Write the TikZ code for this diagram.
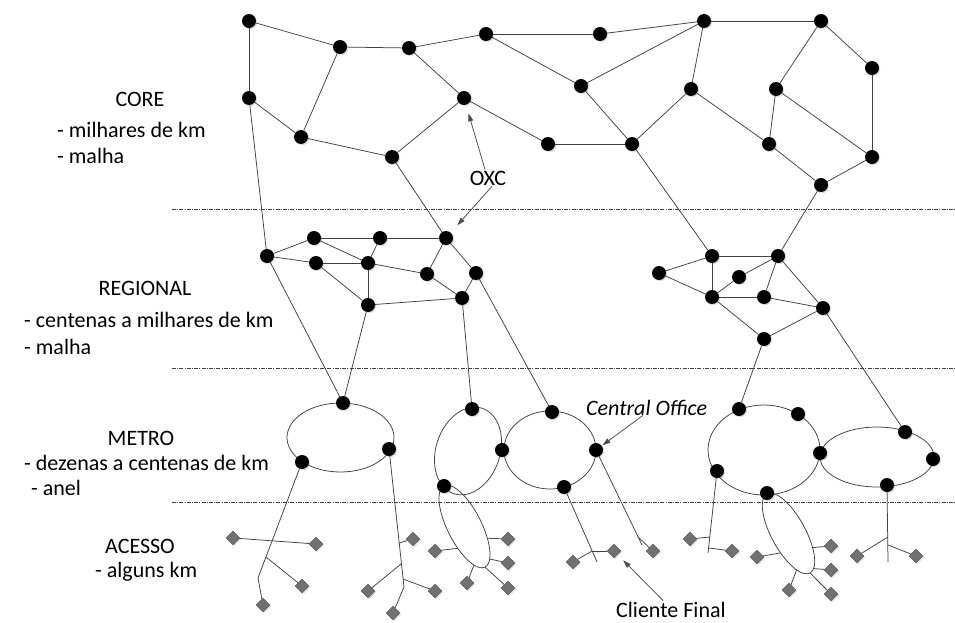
\documentclass[tikz,border=0pt]{standalone}
\usepackage{fontspec}
\setmainfont{Carlito}
\usetikzlibrary{shapes.geometric,arrows.meta,shadows}
\definecolor{linkgray}{HTML}{404040}
\definecolor{cpefill}{HTML}{717171}
\definecolor{cpeedge}{HTML}{4E4E4E}

\begin{document}
\begin{tikzpicture}[x=1pt,y=-1pt,
  link/.style={draw=linkgray,line width=0.75pt},
  layerline/.style={draw=black!75,line width=0.6pt,dash pattern=on 4pt off 1.2pt on 1pt off 1.2pt},
  hub/.style={circle,fill=black,inner sep=0pt,outer sep=0pt,minimum size=14pt,
    drop shadow={shadow xshift=1.2pt,shadow yshift=-1.2pt,opacity=0.25}},
  cpe/.style={diamond,aspect=1,fill=cpefill,draw=cpeedge,line width=0.4pt,inner sep=0pt,
    minimum width=14pt,minimum height=14pt,
    drop shadow={shadow xshift=1.2pt,shadow yshift=-1.2pt,opacity=0.25}},
  ring/.style={ellipse,draw=linkgray,line width=0.75pt,inner sep=0pt,outer sep=0pt},
  pointer/.style={draw=black!70,line width=0.75pt,-{Triangle[length=8pt,width=5pt]}},
  txt/.style={font=\fontsize{22}{26}\selectfont,inner sep=0pt},
]
\fill[white] (0,0) rectangle (955,623);
\useasboundingbox (0,0) rectangle (955,623);

% layer boundaries
\draw[layerline] (172,209) -- (955,209);
\draw[layerline] (172,368) -- (955,368);
\draw[layerline] (172,502) -- (955,502);

% layer captions
\node[txt,anchor=base] (lcore) at (140,107) {CORE};
\node[txt,anchor=base west] (lcore1) at (57,137) {- milhares de km};
\node[txt,anchor=base west] (lcore2) at (57,163) {- malha};
\node[txt,anchor=base] (lreg) at (145,295) {REGIONAL};
\node[txt,anchor=base west] (lreg1) at (24,327) {- centenas a milhares de km};
\node[txt,anchor=base west] (lreg2) at (24,354) {- malha};
\node[txt,anchor=base] (lmetro) at (141,445) {METRO};
\node[txt,anchor=base west] (lmetro1) at (24,470) {- dezenas a centenas de km};
\node[txt,anchor=base west] (lmetro2) at (31,495) {- anel};
\node[txt,anchor=base] (lacc) at (140,553) {ACESSO};
\node[txt,anchor=base west] (lacc1) at (95,577) {- alguns km};

% metro rings and access rings
\node[ring,minimum width=107pt,minimum height=69pt] (ringA) at (340.5,437.5) {};
\node[ring,minimum width=90pt,minimum height=64pt,rotate=71.5] (ringB) at (468,451) {};
\node[ring,minimum width=92pt,minimum height=78pt] (ringC) at (550,450) {};
\node[ring,minimum width=112pt,minimum height=90pt] (ringD) at (764,450) {};
\node[ring,minimum width=114pt,minimum height=60pt] (ringE) at (877,457) {};
\node[ring,minimum width=91pt,minimum height=34pt,rotate=-63.2] (acc1) at (464.5,526.5) {};
\node[ring,minimum width=90pt,minimum height=34pt,rotate=-61.4] (acc2) at (788.5,533.5) {};

% switching nodes
\foreach \n/\x/\y in {
  c1/249/21, c2/340/47, c3/409/48, c4/486/34, c5/249/98, c6/301/137, c7/464/98,
  c8/392/157, c9/548/144, c10/704/21, c11/600/34, c12/581/86, c13/632/144,
  c14/691/89, c15/769/144, c16/821/21, c17/872/68, c18/776/89, c19/872/157, c20/821/185,
  r1/267/256, r2/314/238, r3/380/238, r4/446/238, r5/316/263, r6/368/263,
  r7/427/274, r8/476/273, r9/462/298, r10/368/305,
  s1/659/273, s2/712/256, s3/778/256, s4/739/277, s5/712/297, s6/764/297,
  s7/823/308, s8/764/339,
  mA1/343/403, mA2/389/449, mA3/302/462,
  mB1/472/409, mB2/502/450, mB3/444/486,
  mC1/552/412, mC2/596/450, mC3/564/487,
  mD1/739/409, mD2/798/414, mD3/820/453, mD4/717/471, mD5/767/493,
  mE1/905/432, mE2/933/459, mE3/887/485}
  \node[hub] (\n) at (\x,\y) {};

% customer premises
\foreach \n/\x/\y in {
  d1/263/605, d2/233/538, d3/316/544, d4/302/586, d5/393/613, d6/413/539,
  d7/368/591, d8/435/591, d9/435/551, d10/508/539, d11/508/563, d12/508/588,
  d13/467/583, d14/757/557, d15/831/546, d16/831/570, d17/831/594, d18/789/590,
  d19/573/562, d20/614/551, d21/653/551, d22/690/539, d23/732/551,
  d24/857/556, d25/916/556}
  \node[cpe] (\n) at (\x,\y) {};

% mesh links
\foreach \a/\b in {
  c1/c2, c1/c5, c2/c3, c2/c6, c3/c4, c3/c7, c4/c11, c4/c12, c5/c6, c6/c8,
  c8/c7, c7/c9, c9/c13, c11/c10, c12/c10, c12/c13, c13/c14, c14/c10, c14/c15,
  c10/c16, c16/c17, c16/c18, c18/c15, c18/c19, c17/c19, c15/c20, c19/c20,
  r1/r2, r1/r5, r2/r3, r3/r4, r2/r6, r3/r6, r5/r6, r6/r7, r4/r7, r4/r8,
  r7/r9, r8/r9, r5/r10, r6/r10, r10/r9,
  s1/s2, s1/s5, s2/s3, s2/s5, s5/s4, s4/s3, s5/s6, s3/s6, s6/s7, s3/s7,
  s5/s8, s8/s7,
  c5/r1, c8/r4, c13/s2, c20/s3, r1/mA1, r10/mA1, r9/mB1, r8/mC1, s8/mD1, s7/mE1}
  \draw[link] (\a) -- (\b);

% access trees
\coordinate (t1k) at (258,578);
\coordinate (t1j) at (266,557);
\coordinate (t2k) at (404,587);
\coordinate (t2a) at (399,543);
\coordinate (t2b) at (401,564);
\coordinate (t2c) at (403,579);
\coordinate (t3e) at (597,562);
\coordinate (t3a) at (592,551);
\coordinate (t4e) at (642,545);
\coordinate (t4a) at (638,537);
\coordinate (t5e) at (708,553);
\coordinate (t5a) at (710,537);
\coordinate (t5b) at (709,548);
\coordinate (t6e) at (888,562);
\coordinate (t6a) at (888,537);
\coordinate (t6b) at (888,545);

\draw[link] (mA3) -- (t1k) -- (d1);
\draw[link] (d2) -- (d3);
\draw[link] (t1j) -- (d4);
\draw[link] (mA2) -- (t2k) -- (d5);
\draw[link] (t2a) -- (d6);
\draw[link] (t2b) -- (d7);
\draw[link] (t2c) -- (d8);
\draw[link] (acc1.-44) -- (d9);
\draw[link] (acc1.36) -- (d10);
\draw[link] (acc1.11) -- (d11);
\draw[link] (acc1.0) -- (d12);
\draw[link] (acc1.-13) -- (d13);
\draw[link] (mC3) -- (t3e);
\draw[link] (t3a) -- (d19);
\draw[link] (t3a) -- (d20);
\draw[link] (mC2) -- (t4e);
\draw[link] (t4a) -- (d21);
\draw[link] (mD4) -- (t5e);
\draw[link] (t5a) -- (d22);
\draw[link] (t5b) -- (d23);
\draw[link] (acc2.-51) -- (d14);
\draw[link] (acc2.31) -- (d15);
\draw[link] (acc2.7) -- (d16);
\draw[link] (acc2.0) -- (d17);
\draw[link] (acc2.-16) -- (d18);
\draw[link] (mE3) -- (t6e);
\draw[link] (t6a) -- (d24);
\draw[link] (t6b) -- (d25);

% callouts
\node[txt,anchor=base,inner sep=1pt] (oxc) at (488,185) {OXC};
\node[txt,anchor=base west,inner sep=1pt] (co) at (585,415) {\itshape Central Office};
\node[txt,anchor=base west,inner sep=1pt] (cf) at (615,617) {Cliente Final};
\draw[pointer,shorten >=9pt] ([xshift=-3pt]oxc.north) -- (c7);
\draw[pointer,shorten >=10pt] ([xshift=4pt]oxc.south) -- (r4);
\draw[pointer,shorten >=1pt] ([xshift=58pt,yshift=1pt]co.south west) -- (mC2);
\draw[pointer,shorten >=8pt] ([xshift=48pt]cf.north west) -- (d20);
\end{tikzpicture}
\end{document}
